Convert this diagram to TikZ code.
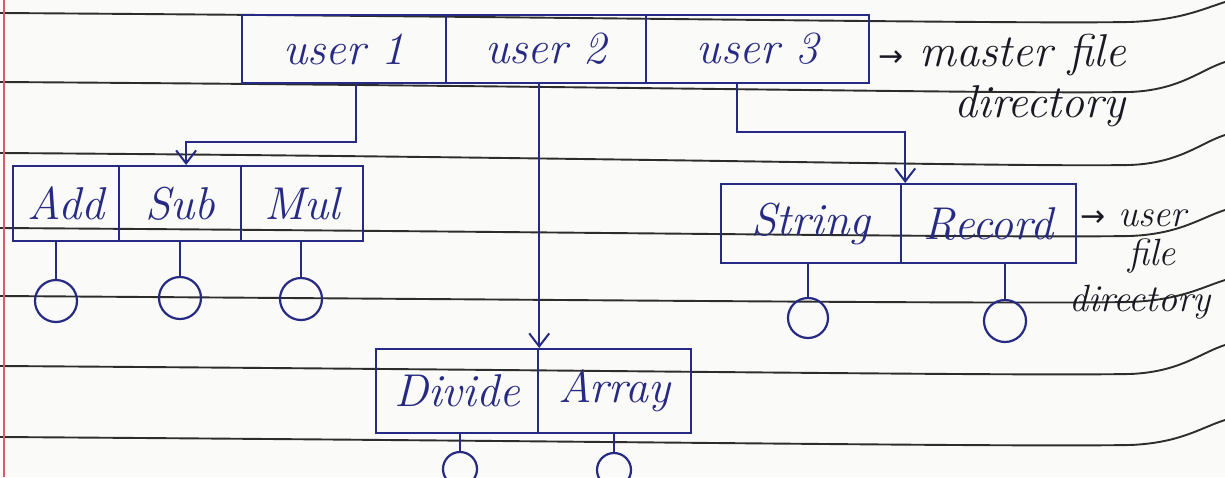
\documentclass[tikz,border=0pt]{standalone}
\usepackage{fontspec}
\newfontfamily\arrowfont{DejaVu Sans}
\usetikzlibrary{arrows.meta,calc}
\definecolor{ink}{RGB}{38,42,130}
\definecolor{pencil}{RGB}{25,25,35}
\definecolor{rule}{RGB}{45,45,45}
\definecolor{paper}{RGB}{250,250,248}
\definecolor{margin}{RGB}{220,90,110}
\newcommand{\handfont}{\fontsize{46}{48}\selectfont\itshape}
\newcommand{\notefont}{\fontsize{46}{48}\selectfont\itshape}
\newcommand{\smallnote}{\fontsize{38}{40}\selectfont\itshape}
\newcommand{\toarrow}{{\arrowfont\fontsize{30}{32}\selectfont\upshape →}}
\tikzset{
  cell/.style={draw=ink, line width=2.2pt, text=ink, font=\handfont, inner sep=0pt, anchor=north west},
  link/.style={draw=ink, line width=2.2pt},
  flowto/.style={link, -{Straight Barb[length=13pt,width=20pt,line width=2pt]}},
  leaf/.style={circle, draw=ink, line width=2.2pt, inner sep=0pt, minimum size=#1},
  note/.style={text=pencil, font=\notefont, inner sep=0pt},
  ruled/.style={draw=rule, line width=1.9pt}
}
\begin{document}
\begin{tikzpicture}[x=1pt,y=-1pt]
\useasboundingbox (0,0) rectangle (1225,477);
\clip (0,0) rectangle (1225,477);
\fill[paper] (0,0) rectangle (1225,477);
% ruled notebook lines
\foreach \ya/\yb/\yc in {13/22/2, 82/92/62, 153/165/135, 228/236/210, 296/302/280, 366/374/345, 437/445/420}{
  \draw[ruled] (0,\ya) .. controls (600,\ya+4) and (1000,\yb+2) .. (1130,\yb) .. controls (1180,\yb-2) and (1200,\yc+8) .. (1225,\yc);
}
\draw[margin, line width=1.4pt] (4,0) -- (4,477);
% master file directory
\node[cell, minimum width=204pt, minimum height=68pt] (u1) at (241,14) {user 1};
\node[cell, minimum width=200pt, minimum height=68pt] (u2) at (445,14) {user 2};
\node[cell, minimum width=223pt, minimum height=68pt] (u3) at (645,14) {user 3};
\node[note, anchor=west] (mfd) at (878,55) {\toarrow\ master file};
\node[note] (mfd2) at (1040,106) {directory};
% user file directories
\node[cell, minimum width=106pt, minimum height=75pt] (add) at (12,165) {Add};
\node[cell, minimum width=122pt, minimum height=75pt] (sub) at (118,165) {Sub};
\node[cell, minimum width=122pt, minimum height=75pt] (mul) at (240,165) {Mul};
\node[cell, minimum width=162pt, minimum height=84pt] (div) at (375,348) {Divide};
\node[cell, minimum width=153pt, minimum height=84pt] (arr) at (537,348) {Array};
\node[cell, minimum width=180pt, minimum height=79pt] (str) at (720,183) {String};
\node[cell, minimum width=175pt, minimum height=79pt] (rec) at (900,183) {Record};
\node[note, font=\smallnote, anchor=west] (ufd) at (1080,218) {\toarrow\ user};
\node[note, font=\smallnote] (ufd2) at (1152,256) {file};
\node[note, font=\smallnote] (ufd3) at (1140,302) {directory};
% connectors
\draw[flowto] ([xshift=12pt]u1.south) -- ++(0,58) -| ([xshift=6pt]sub.north);
\draw[flowto] (div.north east |- u2.south) -- (div.north east);
\draw[flowto] ([xshift=-21pt]u3.south) -- ++(0,48) -| ([xshift=3pt]str.north east);
% files
\node[leaf=42pt] (c1) at (56,301) {};
\node[leaf=42pt] (c2) at (180,298) {};
\node[leaf=42pt] (c3) at (301,299) {};
\node[leaf=34pt] (c4) at (460,469) {};
\node[leaf=34pt] (c5) at (614,470) {};
\node[leaf=40pt] (c6) at (808,318) {};
\node[leaf=42pt] (c7) at (1005,321) {};
\draw[link] (c1.north |- add.south) -- (c1.north);
\draw[link] (c2.north |- sub.south) -- (c2.north);
\draw[link] (c3.north |- mul.south) -- (c3.north);
\draw[link] (c4.north |- div.south) -- (c4.north);
\draw[link] (c5.north |- arr.south) -- (c5.north);
\draw[link] (c6.north |- str.south) -- (c6.north);
\draw[link] (c7.north |- rec.south) -- (c7.north);
\end{tikzpicture}
\end{document}
